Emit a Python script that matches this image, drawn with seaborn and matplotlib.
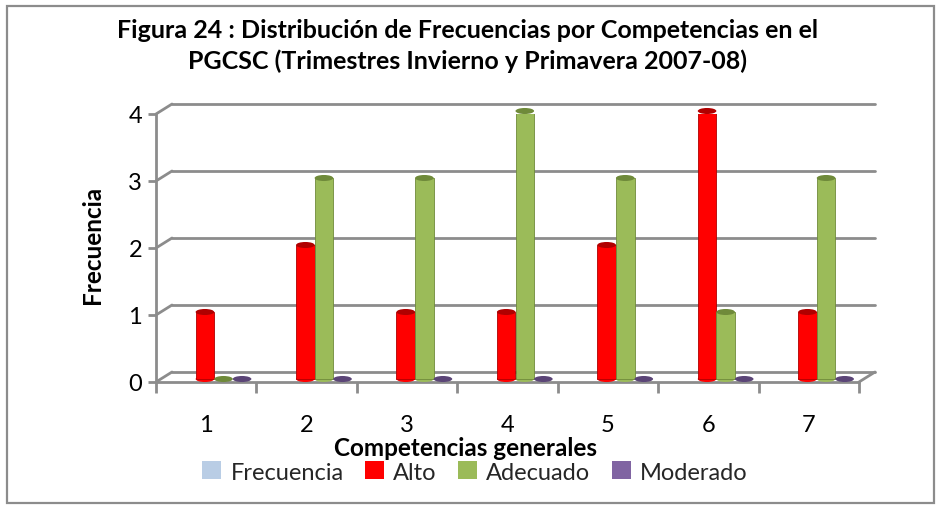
import matplotlib
matplotlib.use("Agg")
import matplotlib.pyplot as plt
import matplotlib.transforms as mtransforms
import matplotlib.colors as mcolors
from matplotlib.patches import Ellipse, Rectangle, Patch
import seaborn as sns
import pandas as pd
import numpy as np

# ---- data ----
categories = ["1", "2", "3", "4", "5", "6", "7"]
series_names = ["Frecuencia", "Alto", "Adecuado", "Moderado"]
frecuencia = [np.nan] * 7
alto = [1, 2, 1, 1, 2, 4, 1]
adecuado = [0, 3, 3, 4, 3, 1, 3]
moderado = [0, 0, 0, 0, 0, 0, 0]
yticks = [0, 1, 2, 3, 4]
colors = {"Frecuencia": "#B9CDE5", "Alto": "#FF0000", "Adecuado": "#9BBB59", "Moderado": "#8064A2"}
edge_colors = {"Frecuencia": "#8EA9C8", "Alto": "#B00000", "Adecuado": "#6F8A3A", "Moderado": "#5B4577"}

title = "Figura 24 : Distribución de Frecuencias por Competencias en el\nPGCSC (Trimestres Invierno y Primavera 2007-08)"
xlabel = "Competencias generales"
ylabel = "Frecuencia"

series_values = {"Frecuencia": frecuencia, "Alto": alto, "Adecuado": adecuado, "Moderado": moderado}
rows = []
for name in series_names:
    for c, v in zip(categories, series_values[name]):
        rows.append({"Competencia": c, "Serie": name, "Valor": v})
df = pd.DataFrame(rows)

sns.set_theme(style="white")
plt.rcParams['font.family'] = ['Lato', 'DejaVu Sans']

W, H = 941, 506
fig = plt.figure(figsize=(W / 100, H / 100), dpi=100)
fig.patch.set_facecolor("white")

# outer border
fig.add_artist(Rectangle((7 / W, 2 / H), (934 - 7) / W, (499 - 2) / H, transform=fig.transFigure,
                         fill=False, edgecolor="#8C8C8C", linewidth=1.6))

x0, x1, yb, yt = 156, 859, 383, 115
ax = fig.add_axes([x0 / W, (H - yb) / H, (x1 - x0) / W, (yb - yt) / H])
ax.set_facecolor("none")

sns.barplot(data=df, x="Competencia", y="Valor", hue="Serie", hue_order=series_names,
            palette=colors, width=0.74, dodge=True, ax=ax, legend=False, saturation=1,
            edgecolor="none")

ax.set_xlim(-0.5, 6.5)
ax.set_ylim(0, 4)

dx, dy = 16, 10  # depth in pixels
back = ax.transData + mtransforms.ScaledTranslation(dx / 100, dy / 100, fig.dpi_scale_trans)
mid = ax.transData + mtransforms.ScaledTranslation(dx / 200, dy / 200 - 0.02, fig.dpi_scale_trans)

grid_c = "#8C8C8C"
for yv in yticks:
    ax.plot([-0.5, 6.5], [yv, yv], transform=back, color=grid_c, lw=2, clip_on=False, zorder=0.5)
    p0 = ax.transData.transform((-0.5, yv))
    ax.plot([p0[0], p0[0] + dx], [p0[1], p0[1] + dy], transform=None, color=grid_c, lw=2,
            clip_on=False, zorder=0.5)
ax.plot([-0.5, 6.5], [0, 0], color=grid_c, lw=2, clip_on=False, zorder=0.6)
p0 = ax.transData.transform((6.5, 0))
ax.plot([p0[0], p0[0] + dx], [p0[1], p0[1] + dy], transform=None, color=grid_c, lw=2,
        clip_on=False, zorder=0.6)

for s in ax.spines.values():
    s.set_visible(False)
ax.spines["left"].set_visible(True)
ax.spines["left"].set_color(grid_c)
ax.spines["left"].set_linewidth(2)

# bars rendered as cylinders
rgb_to_name = {mcolors.to_hex(c): n for n, c in colors.items()}
cap_h = 0.09
for patch in list(ax.patches):
    name = rgb_to_name.get(mcolors.to_hex(patch.get_facecolor()))
    if name is None:
        continue
    patch.set_transform(mid)
    patch.set_zorder(2)
    h = patch.get_height()
    if h is None or np.isnan(h):
        continue
    w = patch.get_width()
    xc = patch.get_x() + w / 2
    if h > 0:
        patch.set_edgecolor(edge_colors[name])
        patch.set_linewidth(0.6)
        ax.add_patch(Ellipse((xc, 0), w, cap_h, transform=mid, facecolor=colors[name],
                             edgecolor="none", zorder=1.9, clip_on=False))
        ax.add_patch(Ellipse((xc, h), w, cap_h, transform=mid, facecolor=edge_colors[name],
                             edgecolor="none", zorder=2.1, clip_on=False))
    else:
        ax.add_patch(Ellipse((xc, 0), w, cap_h, transform=mid, facecolor=edge_colors[name],
                             edgecolor="none", zorder=2.1, clip_on=False))

# ticks
ax.set_yticks(yticks)
ax.set_yticklabels([str(t) for t in yticks])
ax.tick_params(axis="y", left=True, length=6, width=2, color=grid_c, labelsize=17, pad=4,
               labelcolor="black")
ax.set_xticks(range(len(categories)))
ax.set_xticklabels(categories)
ax.set_xticks(np.arange(-0.5, 7, 1), minor=True)
ax.tick_params(axis="x", which="major", bottom=False, length=0, labelsize=17, pad=23,
               labelcolor="black")
ax.tick_params(axis="x", which="minor", bottom=True, length=8, width=2, color=grid_c)
ax.set_xlabel("")
ax.set_ylabel("")

fig.text(92 / W, 1 - 245 / H, ylabel, rotation=90, ha="center", va="center",
         fontsize=17.5, fontweight="bold", color="black")
fig.text(465 / W, 1 - 449 / H, xlabel, ha="center", va="center",
         fontsize=17.5, fontweight="bold", color="black")
fig.text(468 / W, 1 - 46 / H, title, ha="center", va="center", fontsize=18,
         fontweight="bold", color="black", linespacing=1.35)

handles = [Patch(facecolor=colors[n], edgecolor="none") for n in series_names]
fig.legend(handles, series_names, loc="center", bbox_to_anchor=(475 / W, 1 - 473 / H),
           ncol=4, frameon=False, fontsize=17, handlelength=0.8, handleheight=0.8,
           handletextpad=0.4, columnspacing=0.9, borderaxespad=0)

fig.savefig("out.png", dpi=100, facecolor="white")
